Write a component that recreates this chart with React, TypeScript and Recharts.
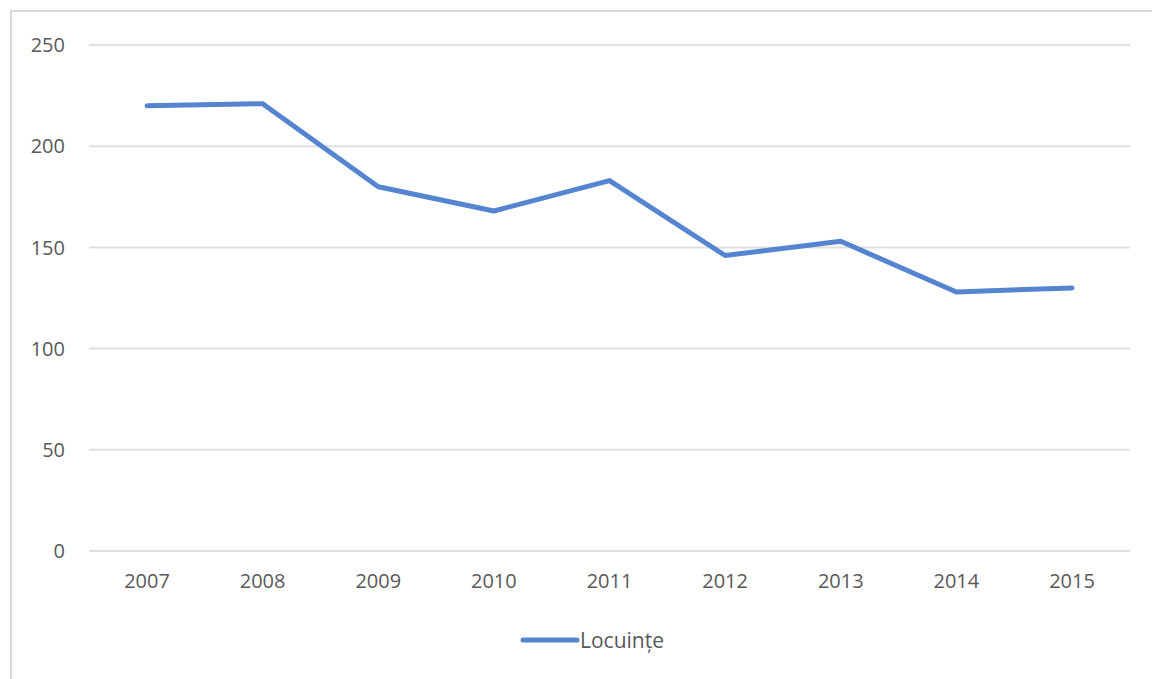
import React from 'react';
import { LineChart, Line, XAxis, YAxis, CartesianGrid, Legend } from 'recharts';

const years = ['2007', '2008', '2009', '2010', '2011', '2012', '2013', '2014', '2015'];
const locuinte = [220, 221, 180, 168, 183, 146, 153, 128, 130];
const yTicks = [0, 50, 100, 150, 200, 250];

const data = years.map((name, i) => ({ name, Locuinte: locuinte[i] }));

const lineColor = '#5585d0';
const textColor = '#595959';
const gridColor = '#e0e0e0';
const font = '"Open Sans", sans-serif';

const LegendContent = () => (
  <div style={{ display: 'flex', justifyContent: 'center', alignItems: 'center', height: 50, paddingLeft: 54 }}>
    <svg width={60} height={10}>
      <line x1={3} y1={5} x2={57} y2={5} stroke={lineColor} strokeWidth={5} strokeLinecap="round" />
    </svg>
    <span style={{ color: textColor, fontFamily: font, fontSize: 21 }}>Locuințe</span>
  </div>
);

const App: React.FC = () => {
  return (
    <div style={{ position: 'absolute', left: 0, top: 0, width: 1152, height: 679, overflow: 'hidden', background: '#fff' }}>
      <div
        style={{
          position: 'absolute',
          left: 10,
          top: 10,
          width: 1200,
          height: 720,
          border: '2px solid #d9d9d9',
          boxSizing: 'border-box',
        }}
      />
      <div style={{ position: 'absolute', left: 0, top: 0 }}>
        <LineChart width={1152} height={679} data={data} margin={{ top: 45, right: 22, left: 0, bottom: 14 }}>
          <CartesianGrid vertical={false} stroke={gridColor} strokeWidth={2} />
          <XAxis
            dataKey="name"
            height={64}
            padding={{ left: 58, right: 58 }}
            tickLine={false}
            axisLine={{ stroke: gridColor, strokeWidth: 2 }}
            tickSize={0}
            tickMargin={23}
            tick={{ fill: textColor, fontSize: 20, fontFamily: font }}
          />
          <YAxis
            width={89}
            domain={[0, 250]}
            ticks={yTicks}
            tickLine={false}
            axisLine={false}
            tickSize={0}
            tickMargin={24}
            tick={{ fill: textColor, fontSize: 20, fontFamily: font }}
          />
          <Legend verticalAlign="bottom" height={50} content={<LegendContent />} />
          <Line
            type="linear"
            dataKey="Locuinte"
            name="Locuințe"
            stroke={lineColor}
            strokeWidth={5}
            strokeLinecap="round"
            strokeLinejoin="round"
            dot={false}
            isAnimationActive={false}
          />
        </LineChart>
      </div>
    </div>
  );
};

export default App;
